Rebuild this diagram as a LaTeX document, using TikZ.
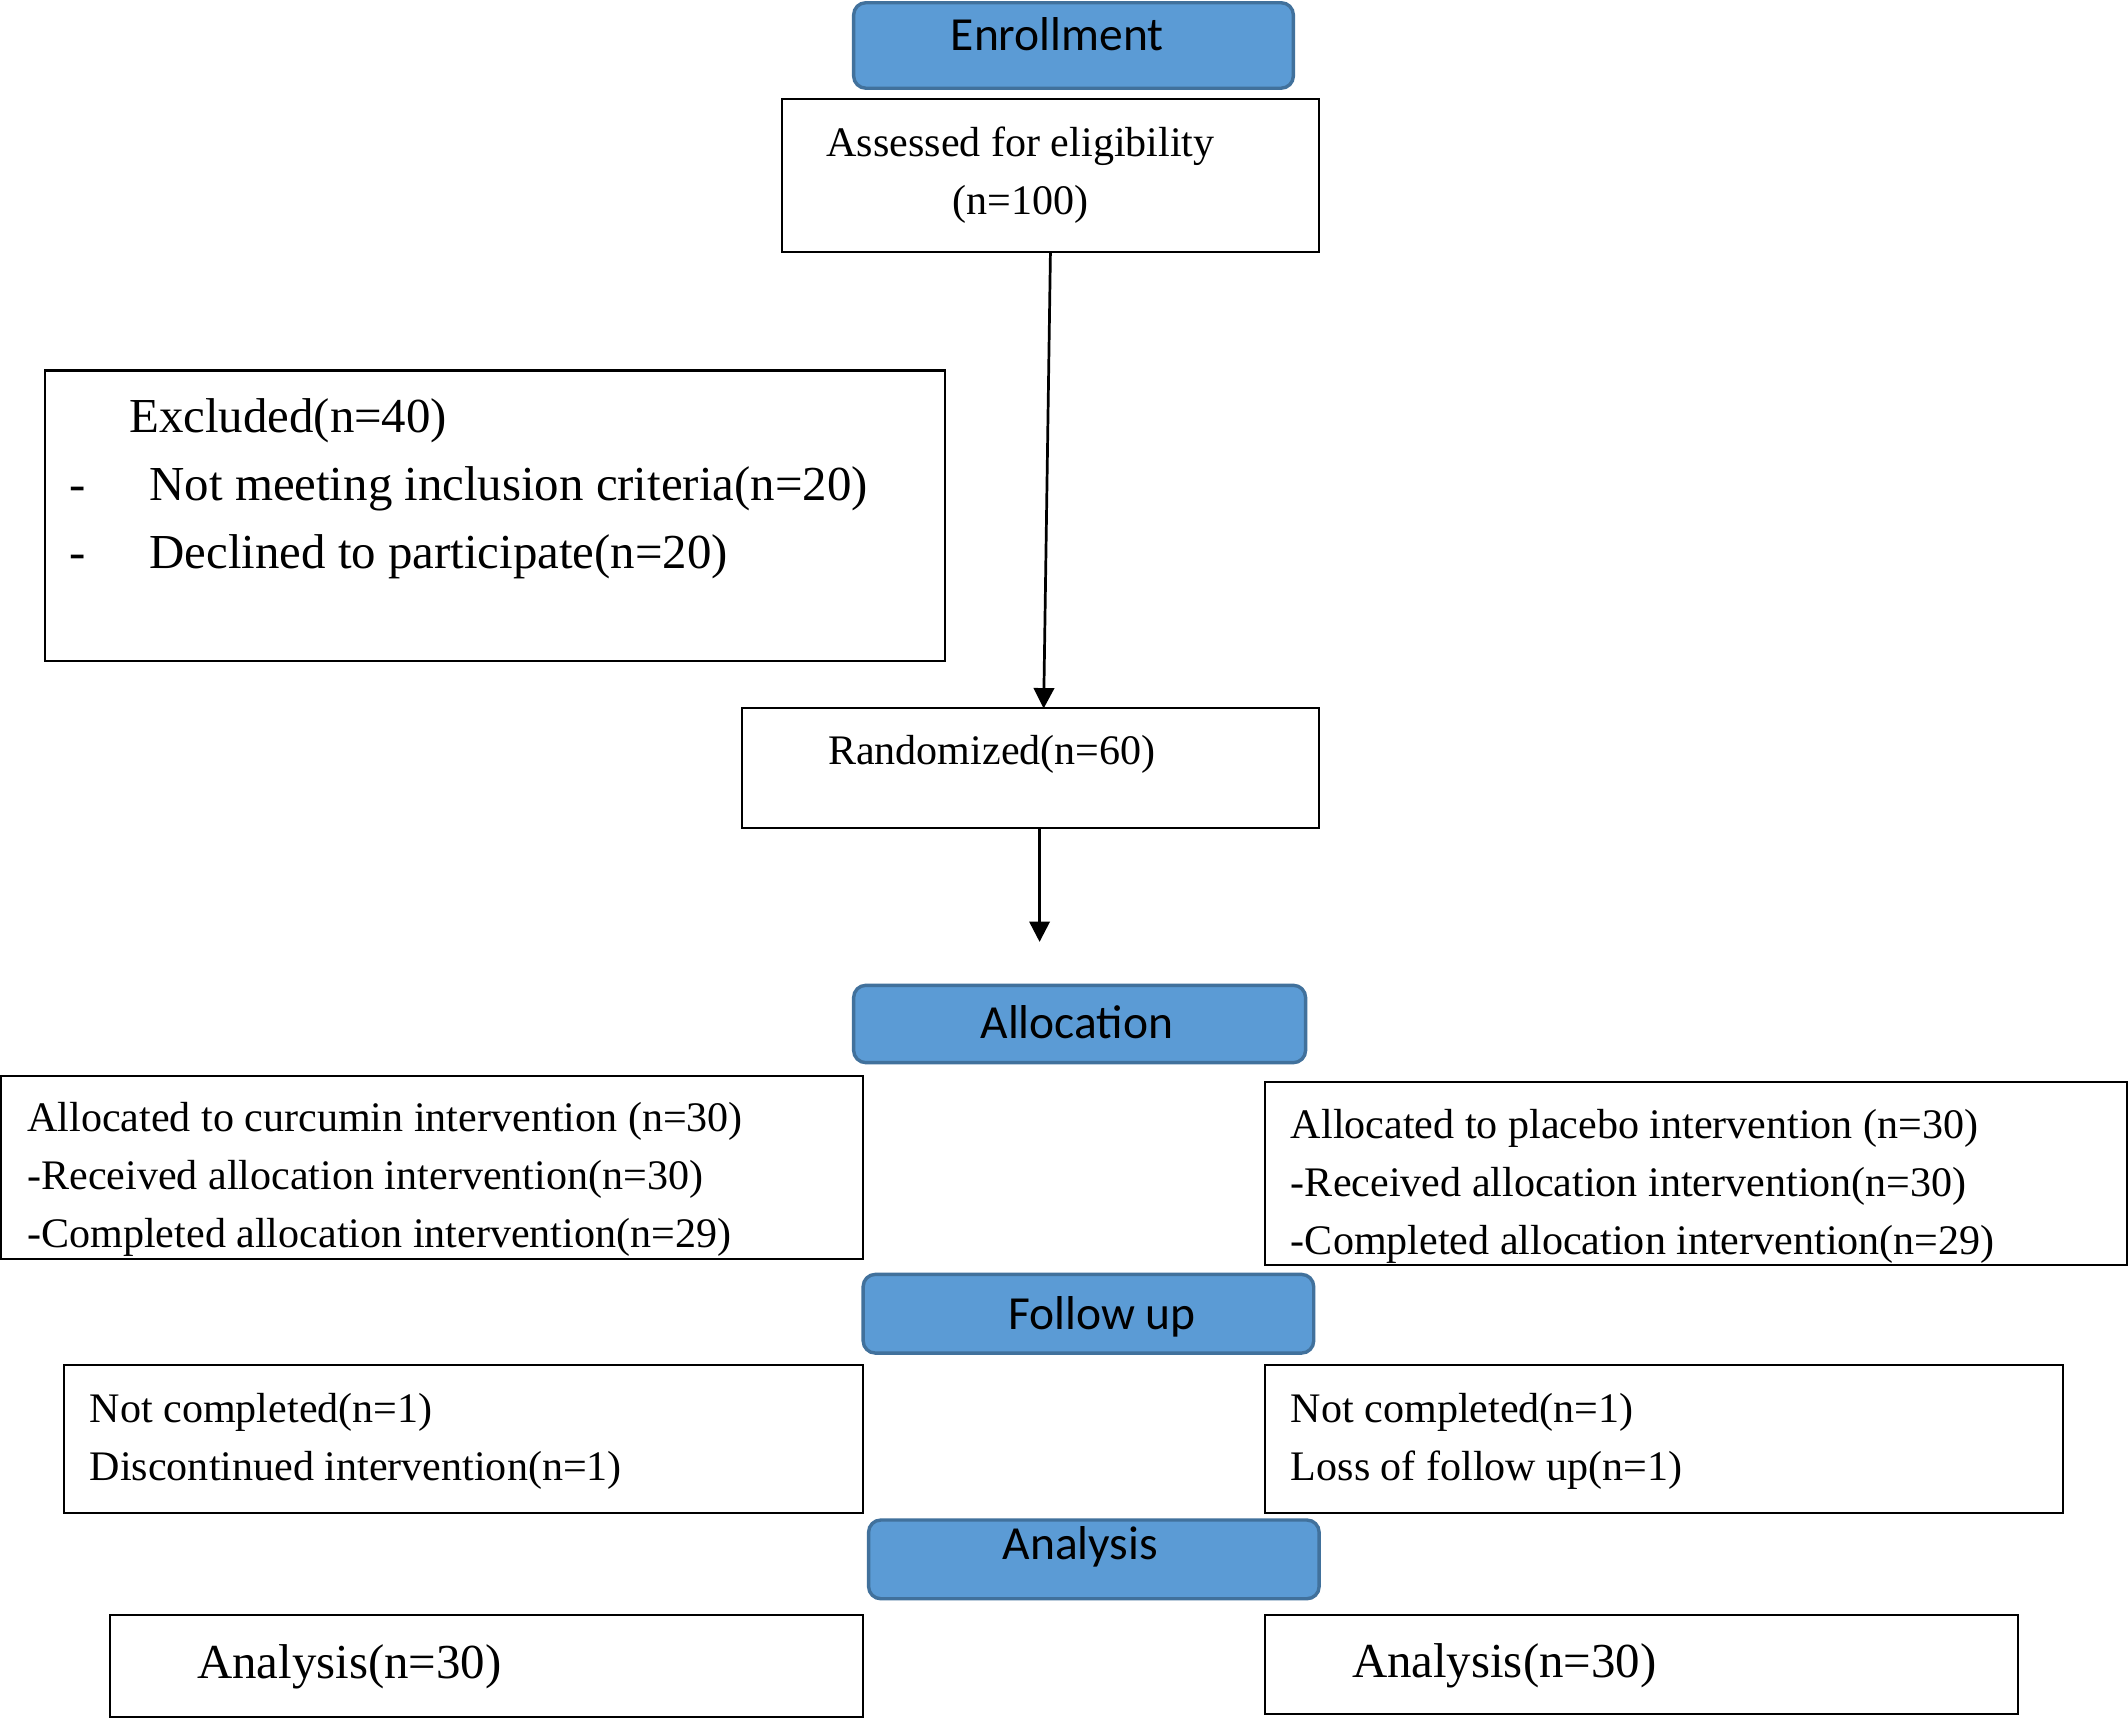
\documentclass[tikz,border=0pt]{standalone}
\usepackage{fontspec}
\setmainfont{Liberation Serif}
\newfontfamily\hdrfont{Carlito}
\usetikzlibrary{arrows.meta,positioning}
\definecolor{hdrfill}{HTML}{5B9BD5}
\definecolor{hdrline}{HTML}{41719C}
\tikzset{
  box/.style={draw=black, line width=1.5pt, fill=white, inner sep=0pt, outer sep=0pt},
  hdr/.style={draw=hdrline, line width=2.5pt, fill=hdrfill, rounded corners=9pt, inner sep=0pt, outer sep=0pt},
  hdrtext/.style={inner sep=0pt, font=\hdrfont\fontsize{35}{42}\selectfont},
  bodytext/.style={inner sep=0pt, anchor=base west, align=left, font=\fontsize{31}{42.5}\selectfont},
  bigtext/.style={inner sep=0pt, anchor=base west, align=left, font=\fontsize{36}{50}\selectfont},
  arr/.style={line width=2pt, -{Triangle[width=15pt,length=15pt]}}
}
\begin{document}
\begin{tikzpicture}[x=1pt,y=-1pt]
\useasboundingbox (0,0) rectangle (1568,1267);
\fill[white] (0,0) rectangle (1568,1267);
% headers
\node[hdr, minimum width=324pt, minimum height=63pt] (enroll) at (791,33.5) {};
\node[hdrtext] (enrollT) at (779,25) {Enrollment};
\node[hdr, minimum width=333pt, minimum height=57pt] (allochdr) at (795.5,754.5) {};
\node[hdrtext] (allochdrT) at (793.5,753) {Allocation};
\node[hdr, minimum width=332pt, minimum height=58pt] (followhdr) at (802,968) {};
\node[hdrtext] (followhdrT) at (812,970) {Follow up};
\node[hdr, minimum width=332pt, minimum height=58pt] (anhdr) at (806,1149) {};
\node[hdrtext] (anhdrT) at (796,1140) {Analysis};
% boxes
\node[box, minimum width=396pt, minimum height=113pt] (assess) at (774,129.5) {};
\node[box, minimum width=663pt, minimum height=214pt] (excl) at (364.5,380) {};
\node[box, minimum width=425pt, minimum height=88pt] (rand) at (759.5,566) {};
\node[box, minimum width=635pt, minimum height=135pt] (allocL) at (318.5,860.5) {};
\node[box, minimum width=635pt, minimum height=135pt] (allocR) at (1249.5,864.5) {};
\node[box, minimum width=589pt, minimum height=109pt] (ncL) at (341.5,1060.5) {};
\node[box, minimum width=588pt, minimum height=109pt] (ncR) at (1226,1060.5) {};
\node[box, minimum width=555pt, minimum height=75pt] (anL) at (358.5,1227.5) {};
\node[box, minimum width=555pt, minimum height=73pt] (anR) at (1209.5,1226.5) {};
% texts (base anchor = baseline of last line)
\node[bodytext, anchor=base, align=center, font=\fontsize{31}{43}\selectfont] (assessT) at (752,158) {Assessed for eligibility\\(n=100)};
\node[bigtext] (exclT) at (95,319) {Excluded(n=40)};
\node[bigtext] (exclL) at (51,419) {\makebox[59pt][l]{-}Not meeting inclusion criteria(n=20)\\\makebox[59pt][l]{-}Declined to participate(n=20)};
\node[bodytext] (randT) at (610,563) {Randomized(n=60)};
\node[bodytext] (allocLT) at (20,919) {Allocated to curcumin intervention (n=30)\\-Received allocation intervention(n=30)\\-Completed allocation intervention(n=29)};
\node[bodytext] (allocRT) at (951,924) {Allocated to placebo intervention (n=30)\\-Received allocation intervention(n=30)\\-Completed allocation intervention(n=29)};
\node[bodytext, font=\fontsize{31}{43}\selectfont] (ncLT) at (66,1091) {Not completed(n=1)\\Discontinued intervention(n=1)};
\node[bodytext, font=\fontsize{31}{43}\selectfont] (ncRT) at (951,1091) {Not completed(n=1)\\Loss of follow up(n=1)};
\node[bigtext] (anLT) at (145,1237) {Analysis(n=30)};
\node[bigtext] (anRT) at (996,1236) {Analysis(n=30)};
% connectors
\draw[arr] (assess.south) -- ([xshift=9.5pt]rand.north);
\coordinate (randend) at (766,694);
\draw[arr] ([xshift=6.5pt]rand.south) -- (randend);
\end{tikzpicture}
\end{document}
